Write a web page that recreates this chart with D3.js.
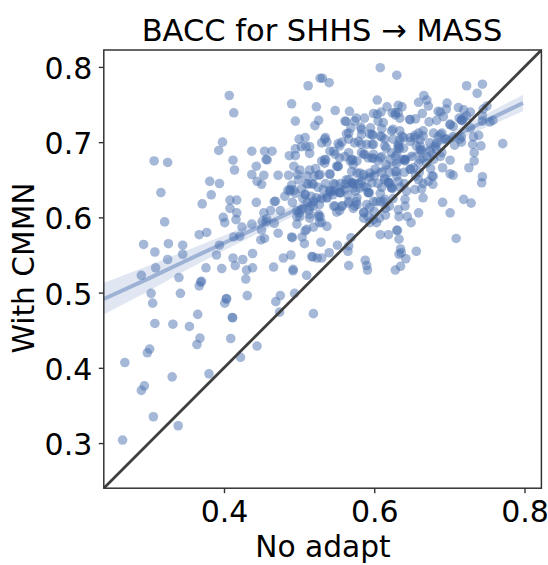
<!DOCTYPE html>
<html><head><meta charset="utf-8">
<script src="https://cdn.jsdelivr.net/npm/d3@7"></script>
<style>html,body{margin:0;padding:0;background:#fff}svg{display:block}text{font-family:"DejaVu Sans",sans-serif;fill:#000}</style>
</head><body><svg id="c" width="548" height="565"></svg>
<script>
const titleText = "BACC for SHHS \u2192 MASS";
const xLabel = "No adapt";
const yLabel = "With CMMN";
const xTicks = [0.4, 0.6, 0.8];
const yTicks = [0.3, 0.4, 0.5, 0.6, 0.7, 0.8];
const axisDomain = [0.24, 0.8225];
const fitX = [0.24,0.30,0.35,0.40,0.45,0.50,0.55,0.60,0.65,0.70,0.75,0.798];
const fitY = [0.4915,0.519,0.5427,0.566,0.589,0.612,0.636,0.659,0.682,0.705,0.729,0.752];
const fitLow = [0.471,0.502,0.530,0.556,0.581,0.605,0.630,0.653,0.676,0.698,0.720,0.741];
const fitHigh = [0.513,0.536,0.556,0.576,0.597,0.619,0.642,0.665,0.688,0.712,0.738,0.763];
// [No adapt, With CMMN]
const subjects = [
[.290,.523],[.340,.520],[.303,.499],[.305,.486],[.308,.459],[.332,.458],[.342,.499],[.354,.455],[.365,.471],[.368,.4395],[.364,.431],[.301,.425],[.298,.420],[.268,.407],[.331,.388],[.294,.376],[.290,.370],[.306,.335],[.339,.323],[.265,.304],[.380,.392],[.422,.414],[.444,.429],[.409,.439],[.411,.467],[.4115,.4665],[.401,.486],[.403,.492],[.4035,.4915],[.431,.496],[.367,.509],[.370,.515],[.369,.514],[.429,.518],[.469,.488],[.475,.496],[.494,.499],[.474,.474],[.519,.472],[.510,.523],[.492,.529],
[.407,.762],[.413,.739],[.512,.775],[.490,.751],[.495,.728],[.523,.747],[.526,.729],[.521,.722],[.307,.675],[.325,.673],[.398,.700],[.393,.689],[.412,.676],[.414,.663],[.316,.633],[.381,.648],[.394,.645],[.383,.630],[.371,.618],[.321,.594],[.293,.564],[.326,.565],[.308,.554],[.345,.563],[.345,.551],[.325,.544],[.367,.577],[.377,.580],[.390,.550],[.394,.563],[.412,.546],[.425,.544],[.438,.552],[.479,.546],[.489,.550],[.517,.548],[.518,.5475],[.309,.533],[.376,.533],[.397,.532],[.415,.536],[.430,.530],[.438,.533],[.466,.534],[.492,.531],[.408,.623],[.417,.623],[.408,.612],[.417,.606],[.399,.600],[.401,.593],[.416,.597],[.424,.587],[.437,.591],[.413,.574],[.421,.575],[.443,.620],[.437,.688],[.454,.688],[.464,.688],[.456,.677],[.4575,.6765],[.443,.668],[.437,.657],[.453,.656],[.444,.648],[.450,.644],[.472,.656],[.486,.656],[.487,.682],[.495,.682],[.495,.691],[.500,.704],[.508,.706],[.503,.694],[.509,.694],[.514,.694],[.514,.685],[.493,.668],[.501,.663],[.498,.657],[.499,.650],[.514,.663],[.522,.665],[.481,.628],[.485,.636],[.490,.643],[.488,.635],[.493,.636],[.467,.621],[.4685,.6215],[.475,.609],[.462,.609],[.453,.606],[.451,.595],[.457,.598],[.456,.594],[.467,.592],[.450,.583],[.472,.579],[.449,.570],[.454,.572],[.490,.574],[.491,.573],[.507,.565],[.504,.574],[.508,.582],[.519,.587],[.510,.584],[.497,.591],[.501,.601],[.500,.606],[.497,.609],[.503,.610],[.514,.599],[.526,.604],[.491,.620],[.508,.631],[.512,.644],[.519,.644],[.511,.620],[.519,.621],[.523,.626],[.515,.615],[.519,.615],[.526,.656],[.527,.593],[.524,.546],[.528,.785],[.488,.637],[.508,.630],[.510,.645],[.517,.645],[.514,.604],[.526,.601],[.497,.601],
[.608,.799],[.630,.789],[.531,.785],[.540,.779],[.723,.775],[.744,.777],[.737,.765],[.604,.756],[.548,.742],[.567,.741],[.666,.762],[.659,.753],[.670,.756],[.672,.748],[.697,.752],[.696,.744],[.617,.747],[.632,.749],[.637,.747],[.712,.746],[.719,.743],[.728,.740],[.750,.748],[.745,.744],[.664,.738],[.685,.741],[.688,.740],[.599,.738],[.609,.740],[.604,.737],[.624,.739],[.632,.739],[.628,.736],[.634,.732],[.647,.730],[.655,.731],[.673,.727],[.683,.729],[.692,.734],[.701,.723],[.705,.721],[.713,.732],[.719,.732],[.716,.729],[.7175,.7285],[.723,.735],[.744,.735],[.744,.728],[.754,.727],[.758,.729],[.728,.719],[.576,.732],[.561,.728],[.5625,.7275],[.587,.732],[.574,.728],[.569,.719],[.563,.711],[.582,.720],[.583,.717],[.595,.719],[.597,.710],[.598,.7095],[.605,.728],[.612,.726],[.610,.718],[.623,.715],[.610,.707],[.599,.697],[.579,.701],[.566,.704],[.557,.700],[.552,.698],[.534,.704],[.537,.700],[.530,.699],[.679,.712],[.690,.712],[.685,.707],[.665,.715],[.659,.712],[.654,.709],[.648,.706],[.639,.706],[.634,.703],[.625,.704],[.614,.704],[.661,.703],[.674,.699],[.681,.695],[.694,.704],[.705,.707],[.716,.707],[.716,.700],[.732,.707],[.739,.709],[.731,.697],[.742,.695],[.771,.698],[.707,.696],[.733,.686],[.733,.675],[.726,.666],[.701,.676],[.691,.666],[.701,.658],[.705,.656],[.744,.654],[.743,.646],[.677,.655],[.6785,.6545],[.672,.648],[.678,.644],[.652,.666],[.648,.664],[.659,.650],[.654,.637],[.663,.638],[.643,.635],[.665,.626],[.691,.620],[.719,.624],[.729,.619],[.701,.606],[.659,.606],[.641,.624],[.641,.615],[.632,.610],[.644,.601],[.633,.601],[.649,.593],[.615,.603],[.608,.577],[.619,.577],[.630,.583],[.631,.5825],[.633,.571],[.709,.572],[.635,.558],[.656,.555],[.636,.553],[.633,.551],[.642,.545],[.635,.535],[.628,.530],[.588,.543],[.590,.536],[.591,.530],[.566,.536],[.540,.553],[.530,.546],[.551,.563],[.565,.555],[.566,.562],[.569,.573],[.529,.567],[.537,.588],[.530,.593],[.528,.601],[.586,.599],[.592,.601],[.586,.607],[.594,.593],[.603,.593],[.599,.597],[.607,.599],[.550,.607],[.546,.615],[.557,.615],[.554,.609],[.566,.621],[.577,.617],[.572,.612],[.590,.617],[.599,.621],[.608,.621],[.614,.624],[.608,.632],[.592,.633],[.5935,.6325],[.577,.626],[.576,.621],[.541,.635],[.5425,.6345],[.546,.635],[.554,.633],[.5555,.6325],[.561,.637],[.537,.626],[.532,.637],[.546,.645],[.563,.650],[.570,.646],[.5715,.6455],[.572,.639],[.583,.648],[.586,.641],[.597,.646],[.614,.652],[.619,.646],[.6205,.6455],[.623,.639],[.6245,.6385],[.632,.648],[.628,.661],[.630,.672],[.616,.670],[.605,.675],[.597,.679],[.5985,.6785],[.586,.684],[.5875,.6835],[.601,.664],[.594,.659],[.586,.657],[.577,.659],[.572,.670],[.570,.677],[.5715,.6765],[.566,.686],[.554,.679],[.548,.684],[.541,.688],[.534,.677],[.5355,.6765],[.530,.675],[.550,.668],[.5515,.6675],[.541,.658],[.528,.657],[.639,.677],[.6405,.6765],[.650,.681],[.661,.690],[.6625,.6895],[.670,.681],[.677,.684],[.683,.690],[.690,.686],[.616,.692],[.632,.692],[.6335,.6915],[.623,.686],[.610,.681],[.583,.697],[.590,.697],[.625,.717],
[.535,.706],[.566,.712],[.583,.710],[.594,.711],[.608,.708],[.632,.697],[.639,.692],[.654,.706],[.661,.695],[.583,.686],[.592,.679],[.599,.684],[.608,.679],[.577,.675],[.568,.675],[.570,.661],[.581,.659],[.594,.653],[.619,.647],[.614,.650],[.623,.640],[.566,.650],[.572,.644],[.554,.633],[.541,.636],[.541,.657],[.548,.644],[.534,.672],[.552,.668],[.630,.661],[.641,.675],[.648,.664],[.659,.672],[.621,.677],[.630,.684],[.537,.626],[.566,.619],[.574,.615],[.548,.615],[.557,.615],[.586,.606],[.594,.613],[.603,.621],[.612,.621],[.592,.633],[.581,.639],[.561,.644],[.546,.688],[.561,.681],[.554,.695],[.574,.699],[.597,.697],[.614,.695],[.637,.708],[.670,.672],[.665,.679],
[.648,.730],[.665,.708],[.656,.695],[.674,.688],[.661,.677],[.683,.699],[.688,.710],[.701,.724],[.716,.730],[.714,.704],[.696,.704],[.679,.677],[.688,.681],[.641,.677],[.628,.681],[.632,.695],[.648,.701],[.628,.739],[.634,.715],
[.505,.625],[.516,.628],[.503,.638],[.525,.640],[.495,.632],[.527,.617],[.505,.612],[.513,.610],[.520,.655],[.510,.655],
[.580,.645],[.600,.655],[.610,.660],[.620,.660],[.605,.645],[.590,.640],[.575,.635],[.565,.630],[.555,.645],[.545,.630],[.535,.645],[.530,.625],[.610,.640],[.630,.655],[.640,.660],[.635,.640],[.625,.625],[.620,.615],[.600,.608],[.615,.612],[.640,.645],[.655,.655],[.660,.660],[.675,.665],[.665,.645]
];

const W = 548, H = 565;
const plot = {left:103.8, right:541.4, top:50, bottom:488.2};
const x = d3.scaleLinear().domain(axisDomain).range([plot.left, plot.right]);
const y = d3.scaleLinear().domain(axisDomain).range([plot.bottom, plot.top]);
const blue = "#4c72b0", dark = "#3f3f3f";
const svg = d3.select("#c");

const clip = svg.append("defs").append("clipPath").attr("id","plotClip").append("rect")
  .attr("x",plot.left).attr("y",plot.top).attr("width",plot.right-plot.left).attr("height",plot.bottom-plot.top);
const g = svg.append("g").attr("clip-path","url(#plotClip)");

g.append("g").selectAll("circle").data(subjects).join("circle")
  .attr("cx",d=>x(d[0])).attr("cy",d=>y(d[1])).attr("r",4.8)
  .attr("fill",blue).attr("fill-opacity",0.5);

const idx = d3.range(fitX.length);
g.append("path").attr("d", d3.area().x(i=>x(fitX[i])).y0(i=>y(fitLow[i])).y1(i=>y(fitHigh[i])).curve(d3.curveMonotoneX)(idx))
  .attr("fill",blue).attr("fill-opacity",0.17);
g.append("path").attr("d", d3.line().x(i=>x(fitX[i])).y(i=>y(fitY[i]))(idx))
  .attr("fill","none").attr("stroke",blue).attr("stroke-opacity",0.45).attr("stroke-width",4);
g.append("line").attr("x1",x(axisDomain[0])).attr("y1",y(axisDomain[0])).attr("x2",x(axisDomain[1])).attr("y2",y(axisDomain[1]))
  .attr("stroke",dark).attr("stroke-width",2.8);

const xAxis = d3.axisBottom(x).tickValues(xTicks).tickFormat(d3.format(".1f")).tickSize(5).tickPadding(8);
const yAxis = d3.axisLeft(y).tickValues(yTicks).tickFormat(d3.format(".1f")).tickSize(5).tickPadding(6.5);
const gx = svg.append("g").attr("transform",`translate(0,${plot.bottom})`).call(xAxis);
const gy = svg.append("g").attr("transform",`translate(${plot.left},0)`).call(yAxis);
[gx,gy].forEach(a=>{a.select(".domain").remove();
  a.selectAll(".tick line").attr("stroke","#333").attr("stroke-width",1.4);
  a.selectAll("text").attr("font-size",30).style("font-family",'"DejaVu Sans"');});
gy.selectAll("text").attr("dy","0.38em");

svg.append("rect").attr("x",plot.left).attr("y",plot.top).attr("width",plot.right-plot.left).attr("height",plot.bottom-plot.top)
  .attr("fill","none").attr("stroke","#333").attr("stroke-width",1.5);

svg.append("text").attr("x",322).attr("y",41).attr("text-anchor","middle").attr("font-size",30.5).text(titleText);
svg.append("text").attr("x",323).attr("y",557).attr("text-anchor","middle").attr("font-size",29.7).text(xLabel);
svg.append("text").attr("transform","translate(34,268) rotate(-90)").attr("text-anchor","middle").attr("font-size",29.7).text(yLabel);
</script></body></html>
